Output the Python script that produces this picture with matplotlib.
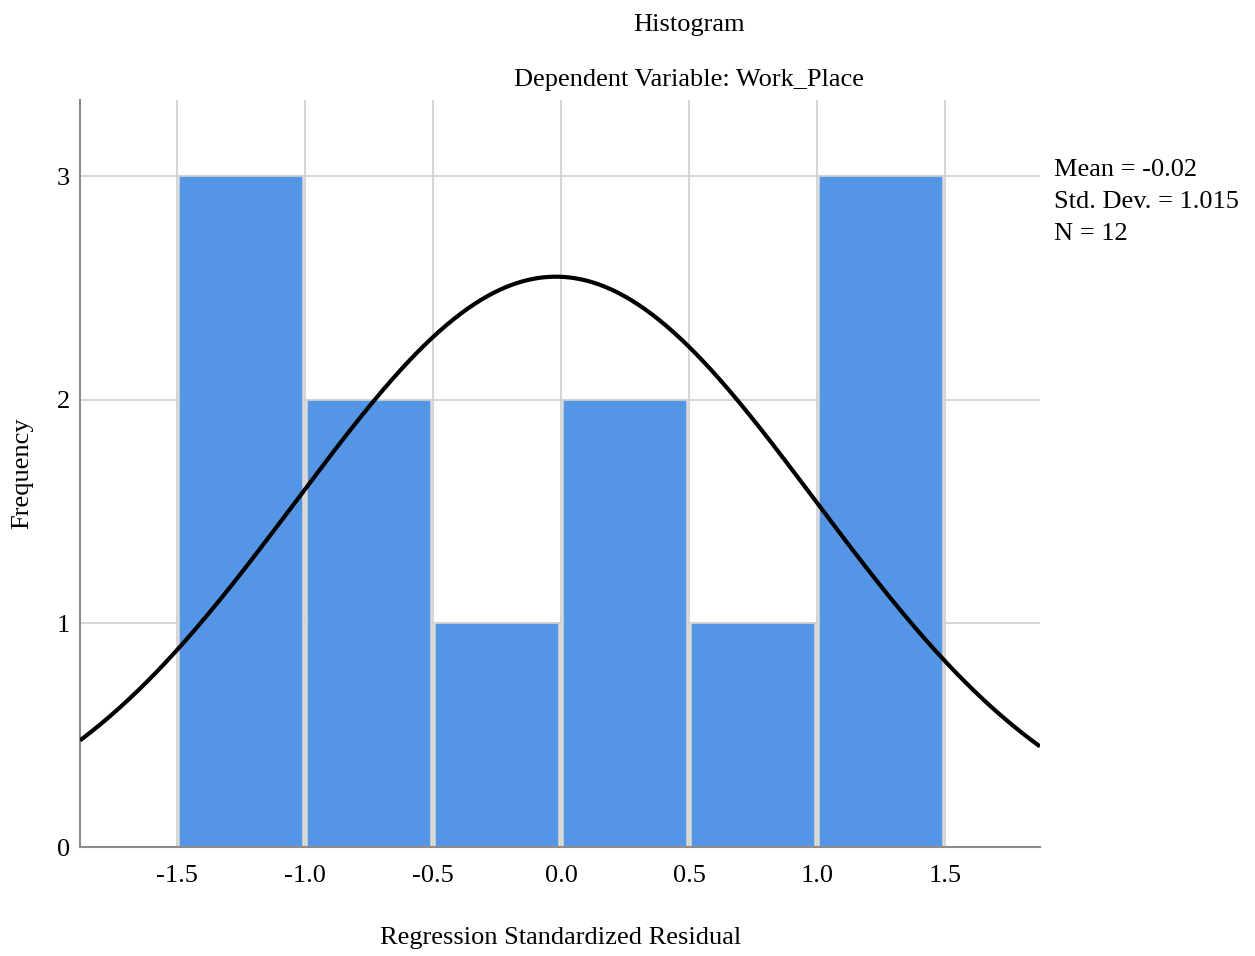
import numpy as np
import matplotlib
matplotlib.use("Agg")
import matplotlib.pyplot as plt

# Histogram of regression standardized residuals
bin_edges = [-1.5, -1.0, -0.5, 0.0, 0.5, 1.0, 1.5]
frequencies = [3, 2, 1, 2, 1, 3]
x_ticks = [-1.5, -1.0, -0.5, 0.0, 0.5, 1.0, 1.5]
x_tick_labels = ["-1.5", "-1.0", "-0.5", "0.0", "0.5", "1.0", "1.5"]
y_ticks = [0, 1, 2, 3]

resid_mean = -0.02
resid_sd = 1.015
n_obs = 12
curve_peak = 2.55

plt.rcParams["font.family"] = ["Liberation Serif", "DejaVu Serif"]
FS = 19

fig = plt.figure(figsize=(12.55, 9.56), dpi=100)
ax = fig.add_axes([80 / 1255, 109 / 956, 960 / 1255, 747 / 956])

bar_color = "#5595E5"
gap = 0.012
for left, right, f in zip(bin_edges[:-1], bin_edges[1:], frequencies):
    ax.bar(left + gap / 2, f, width=(right - left) - gap, align="edge",
           color=bar_color, edgecolor="#d4d4d4", linewidth=1.2, zorder=2)

# Normal curve from stated mean and standard deviation
xs = np.linspace(-1.879, 1.871, 400)
ys = curve_peak * np.exp(-((xs - resid_mean) ** 2) / (2 * resid_sd ** 2))
ax.plot(xs, ys, color="black", linewidth=3.0, zorder=3, solid_capstyle="butt")

ax.set_xlim(-1.879, 1.871)
ax.set_ylim(0, 3.34)
ax.set_xticks(x_ticks)
ax.set_xticklabels(x_tick_labels)
ax.set_yticks(y_ticks)
ax.tick_params(axis="both", length=0, labelsize=FS, colors="black")
ax.tick_params(axis="x", pad=13)
ax.tick_params(axis="y", pad=7)

ax.grid(True, color="#d2d2d2", linewidth=1.3, zorder=0)
ax.set_axisbelow(True)
for side in ("top", "right"):
    ax.spines[side].set_visible(False)
for side in ("left", "bottom"):
    ax.spines[side].set_color("#8c8c8c")
    ax.spines[side].set_linewidth(1.5)

ax.set_xlabel("Regression Standardized Residual", fontsize=FS)
ax.xaxis.set_label_coords((561 - 80) / 960, -(938 - 847) / 747)
ax.xaxis.label.set_va("center")
ax.set_ylabel("Frequency", fontsize=FS)
ax.yaxis.set_label_coords(-(80 - 22) / 960, (847 - 473) / 747)
ax.yaxis.label.set_va("center")

fig.text(689 / 1255, 1 - 25 / 956, "Histogram", ha="center", va="center", fontsize=FS)
fig.text(689 / 1255, 1 - 80 / 956, "Dependent Variable: Work_Place",
         ha="center", va="center", fontsize=FS)

stats = [f"Mean = {resid_mean:.2f}", f"Std. Dev. = {resid_sd:.3f}", f"N = {n_obs}"]
for i, s in enumerate(stats):
    fig.text(1054 / 1255, 1 - (170 + 32 * i) / 956, s, ha="left", va="center",
             fontsize=FS)

fig.savefig("out.png", dpi=100, facecolor="white")
